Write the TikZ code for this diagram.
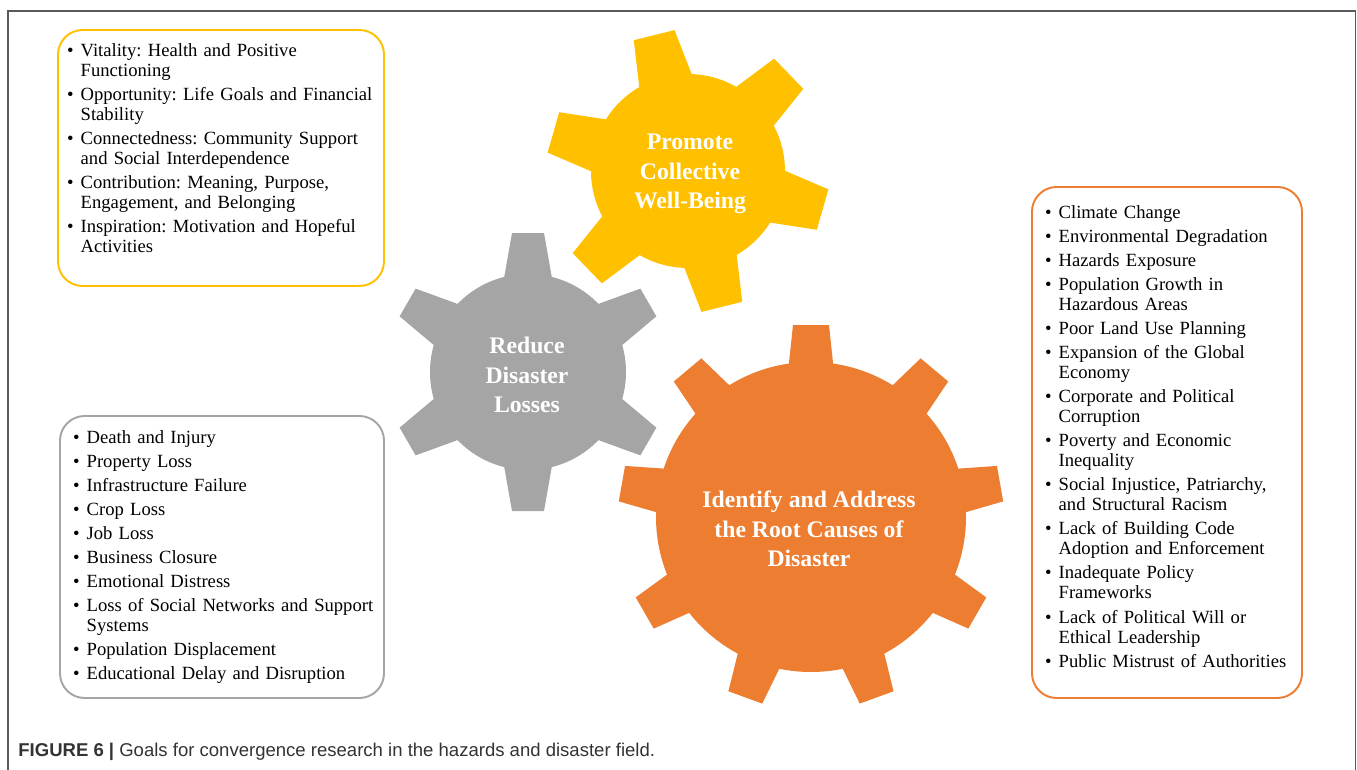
\documentclass[tikz,border=0pt]{standalone}
\usepackage{fontspec}
\setmainfont{Liberation Serif}
\newfontfamily\captionfont{Liberation Sans}
\usepackage{enumitem}
\setlist[itemize]{label=\textbullet,leftmargin=11pt,labelsep=4pt,itemsep=2.3pt,parsep=0pt,topsep=0pt,partopsep=0pt}
\frenchspacing
\definecolor{goalyellow}{HTML}{FFC000}
\definecolor{goalgray}{HTML}{A5A5A5}
\definecolor{goalorange}{HTML}{ED7D31}
\definecolor{framegray}{HTML}{5A5A5A}
\tikzset{
  listbox/.style={draw,line width=1.1pt,rounded corners=14pt},
  listtext/.style={anchor=base west,inner sep=0pt,text width=#1,align=left,
    font=\fontsize{10.6}{11.4}\selectfont},
  geartitle/.style={text=white,align=center,inner sep=0pt,
    font=\fontsize{13.5}{16.8}\selectfont\bfseries},
}
\begin{document}
\begin{tikzpicture}[x=0.02cm,y=0.02cm]
  \useasboundingbox (0,0) rectangle (1357,769);
  \draw[framegray,line width=0.9pt] (8,-5) -- (8,758) -- (1355.5,758) -- (1355.5,-5);
  % gray gear
  \begin{scope}[shift={(528,397)}]
    \fill[goalgray] (0,0) circle (98);
    \foreach \a in {90,30,...,-210}
      \fill[goalgray,rotate=\a] (88,-25) -- (139,-16) -- (139,16) -- (88,25) -- cycle;
  \end{scope}
  % yellow gear
  \begin{scope}[shift={(688,598)}]
    \fill[goalyellow] (0,0) circle (97);
    \foreach \a in {104,44,...,-196}
      \fill[goalyellow,rotate=\a] (85,-28) -- (140,-21) -- (140,21) -- (85,28) -- cycle;
  \end{scope}
  % orange gear
  \begin{scope}[shift={(811,252)}]
    \fill[goalorange] (0,0) circle (155);
    \foreach \a in {90,50,...,-230}
      \fill[goalorange,rotate=\a] (145,-23) -- (192,-18) -- (192,18) -- (145,23) -- cycle;
  \end{scope}
  \node[geartitle] (promote) at (690,595) {Promote\\Collective\\Well-Being};
  \node[geartitle] (reduce) at (527,394) {Reduce\\Disaster\\Losses};
  \node[geartitle] (identify) at (809,240) {Identify and Address\\the Root Causes of\\Disaster};
  % boxes
  \draw[listbox,goalyellow] (58,739) rectangle (384,483);
  \draw[listbox,goalgray] (60,353) rectangle (384,71);
  \draw[listbox,goalorange] (1032,582) rectangle (1302,71);
  \node[listtext=6.6cm] (wellbeing) at (61,733) {%
    \begin{itemize}
      \item Vitality: Health and Positive\\Functioning
      \item Opportunity: Life Goals and Financial\\Stability
      \item Connectedness: Community Support\\and Social Interdependence
      \item Contribution: Meaning, Purpose,\\Engagement, and Belonging
      \item Inspiration: Motivation and Hopeful\\Activities
    \end{itemize}};
  \node[listtext=6.6cm] (losses) at (67,346) {%
    \begin{itemize}
      \item Death and Injury
      \item Property Loss
      \item Infrastructure Failure
      \item Crop Loss
      \item Job Loss
      \item Business Closure
      \item Emotional Distress
      \item Loss of Social Networks and Support\\Systems
      \item Population Displacement
      \item Educational Delay and Disruption
    \end{itemize}};
  \node[listtext=5.4cm] (causes) at (1039,571) {%
    \begin{itemize}
      \item Climate Change
      \item Environmental Degradation
      \item Hazards Exposure
      \item Population Growth in\\Hazardous Areas
      \item Poor Land Use Planning
      \item Expansion of the Global\\Economy
      \item Corporate and Political\\Corruption
      \item Poverty and Economic\\Inequality
      \item Social Injustice, Patriarchy,\\and Structural Racism
      \item Lack of Building Code\\Adoption and Enforcement
      \item Inadequate Policy\\Frameworks
      \item Lack of Political Will or\\Ethical Leadership
      \item Public Mistrust of Authorities
    \end{itemize}};
  \node[anchor=base west,inner sep=0pt,text=black!80,
    font=\captionfont\fontsize{10.55}{12}\selectfont] (caption) at (18,13)
    {\textbf{FIGURE 6 |} Goals for convergence research in the hazards and disaster field.};
\end{tikzpicture}
\end{document}
